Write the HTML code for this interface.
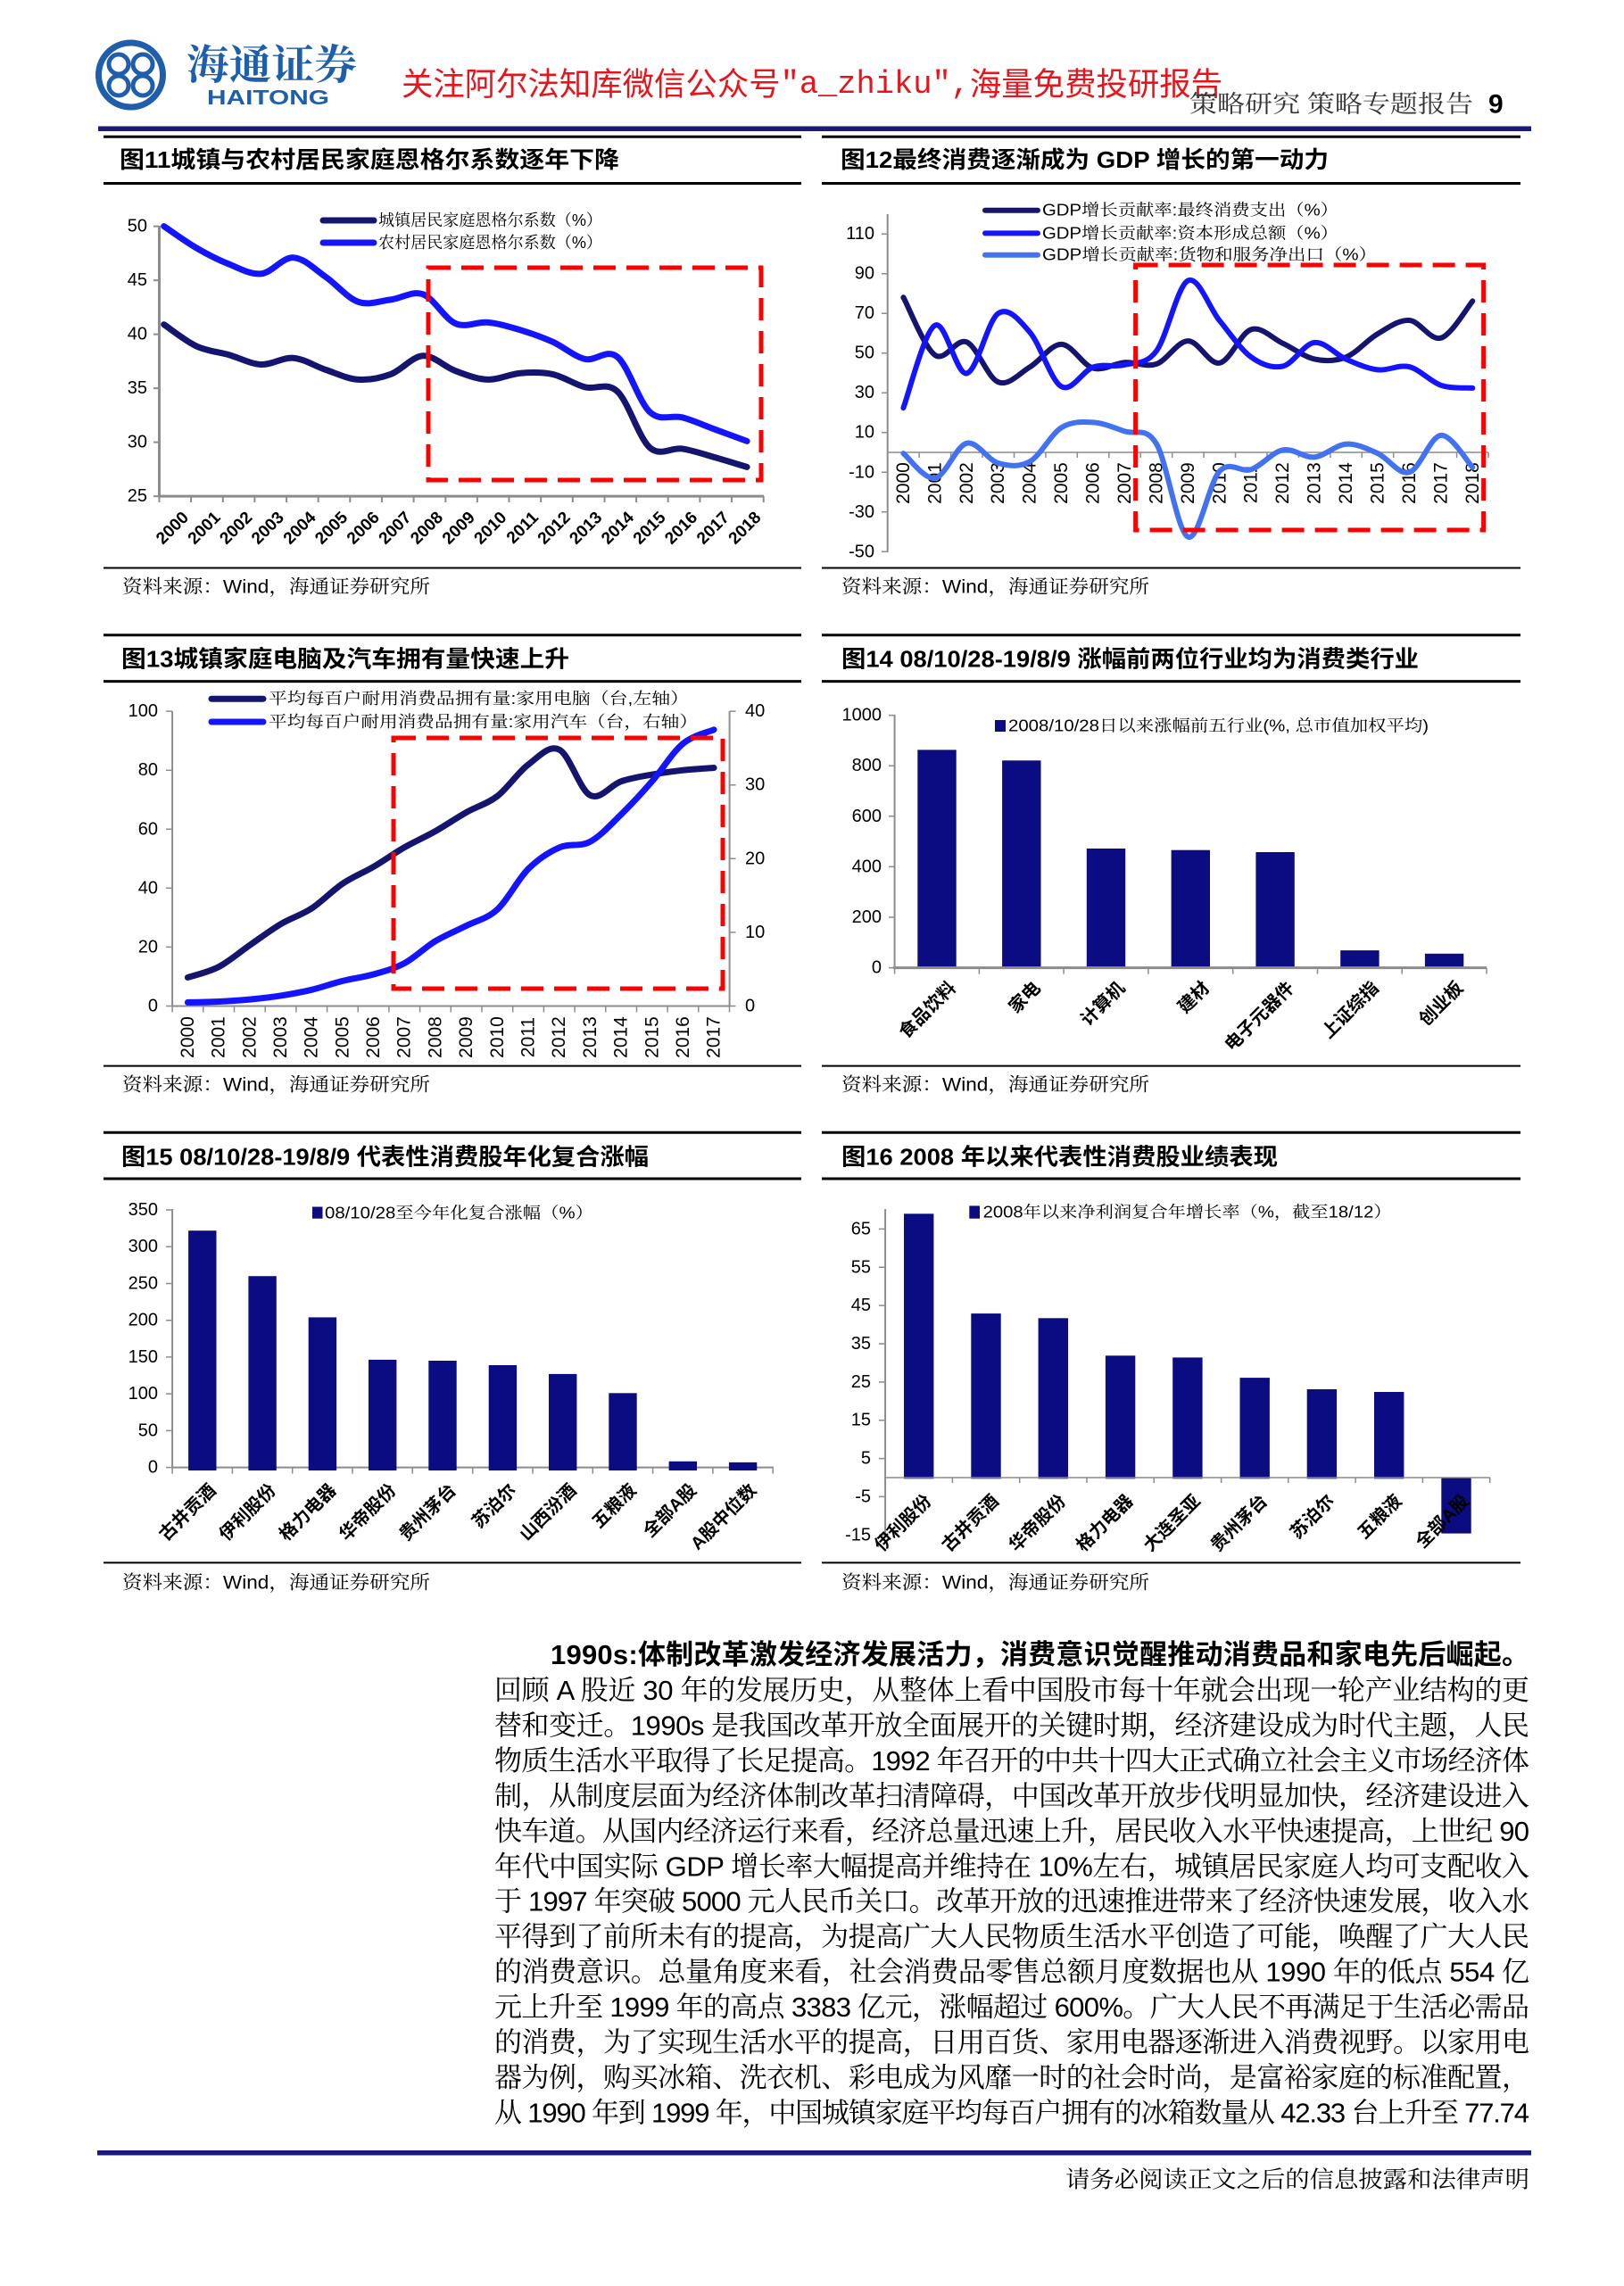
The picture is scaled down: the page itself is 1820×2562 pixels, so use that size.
<!DOCTYPE html>
<html><head><meta charset="utf-8"><style>
html,body{margin:0;padding:0;background:#fff}
svg{display:block}
.t{font-family:"Liberation Sans","Noto Sans CJK SC",sans-serif;font-weight:700;font-size:26px;fill:#000}
.lg{font-family:"Liberation Sans","Noto Serif CJK SC",serif;font-size:18px;fill:#000}
.tk{font-family:"Liberation Sans",sans-serif;font-size:20px;fill:#000}
.yr{font-family:"Liberation Sans",sans-serif;font-size:19px;font-weight:700;fill:#000}
.vl{font-family:"Liberation Sans",sans-serif;font-size:21px;fill:#000}
.bl{font-family:"Liberation Sans","Noto Sans CJK SC",sans-serif;font-size:20px;font-weight:700;fill:#000}
.src{font-family:"Liberation Sans","Noto Serif CJK SC",serif;font-size:21px;fill:#000}
.bd{font-family:"Liberation Sans","Noto Serif CJK SC",serif;font-size:31px;fill:#000}
.bh{font-family:"Liberation Sans","Noto Sans CJK SC",sans-serif;font-size:31px;font-weight:700;fill:#000}
</style></head><body>
<svg width="1820" height="2562" viewBox="0 0 1820 2562">
<rect width="1820" height="2562" fill="#fff"/>

<!-- HEADER -->
<g fill="none" stroke="#1f5eab">
<circle cx="146.5" cy="84" r="36" stroke-width="7"/>
<circle cx="133" cy="72" r="11" stroke-width="5"/>
<circle cx="160" cy="72" r="11" stroke-width="5"/>
<circle cx="133" cy="96" r="11" stroke-width="5"/>
<circle cx="160" cy="96" r="11" stroke-width="5"/>
</g>
<text x="209" y="73" dominant-baseline="central" textLength="191" lengthAdjust="spacingAndGlyphs" style="font-family:'Liberation Serif','Noto Serif CJK SC',serif;font-weight:700;font-size:46px;fill:#1f5eab">海通证券</text>
<text x="232" y="109" dominant-baseline="central" textLength="137" lengthAdjust="spacingAndGlyphs" style="font-family:'Liberation Sans',sans-serif;font-weight:700;font-size:23px;fill:#1f5eab">HAITONG</text>
<text x="450" y="94" dominant-baseline="central" textLength="920" lengthAdjust="spacingAndGlyphs" style="font-family:'Liberation Sans','Noto Sans CJK SC',sans-serif;font-size:36px;fill:#e8141b">关注阿尔法知库微信公众号<tspan style="font-family:'Liberation Mono',monospace">"a_zhiku",</tspan>海量免费投研报告</text>
<text x="1333" y="117" dominant-baseline="central" textLength="318" lengthAdjust="spacingAndGlyphs" style="font-family:'Liberation Serif','Noto Serif CJK SC',serif;font-size:27px;fill:#333">策略研究 策略专题报告</text>
<text x="1668" y="117" dominant-baseline="central" style="font-family:'Liberation Sans',sans-serif;font-weight:700;font-size:30px;fill:#000">9</text>
<rect x="110" y="141.5" width="1606" height="5.5" fill="#1a1a78"/>

<!-- FRAME LINES -->
<g stroke="#000" stroke-width="3">
<line x1="116" y1="153.2" x2="898" y2="153.2"/><line x1="921" y1="153.2" x2="1704" y2="153.2"/>
<line x1="116" y1="205.5" x2="898" y2="205.5"/><line x1="921" y1="205.5" x2="1704" y2="205.5"/>
<line x1="116" y1="711.8" x2="898" y2="711.8"/><line x1="921" y1="711.8" x2="1704" y2="711.8"/>
<line x1="116" y1="763.6" x2="898" y2="763.6"/><line x1="921" y1="763.6" x2="1704" y2="763.6"/>
<line x1="116" y1="1269.3" x2="898" y2="1269.3"/><line x1="921" y1="1269.3" x2="1704" y2="1269.3"/>
<line x1="116" y1="1321" x2="898" y2="1321"/><line x1="921" y1="1321" x2="1704" y2="1321"/>
</g>
<g stroke="#000" stroke-width="2">
<line x1="116" y1="636.5" x2="898" y2="636.5"/><line x1="921" y1="636.5" x2="1704" y2="636.5"/>
<line x1="116" y1="1194.6" x2="898" y2="1194.6"/><line x1="921" y1="1194.6" x2="1704" y2="1194.6"/>
<line x1="116" y1="1751.4" x2="898" y2="1751.4"/><line x1="921" y1="1751.4" x2="1704" y2="1751.4"/>
</g>

<!-- TITLES -->
<g class="t" dominant-baseline="central">
<text x="134" y="179" textLength="560" lengthAdjust="spacingAndGlyphs">图11城镇与农村居民家庭恩格尔系数逐年下降</text>
<text x="942" y="179" textLength="547" lengthAdjust="spacingAndGlyphs">图12最终消费逐渐成为 GDP 增长的第一动力</text>
<text x="136" y="738.6" textLength="502" lengthAdjust="spacingAndGlyphs">图13城镇家庭电脑及汽车拥有量快速上升</text>
<text x="943" y="738.6" textLength="647" lengthAdjust="spacingAndGlyphs">图14 08/10/28-19/8/9 涨幅前两位行业均为消费类行业</text>
<text x="136" y="1296.4" textLength="591" lengthAdjust="spacingAndGlyphs">图15 08/10/28-19/8/9 代表性消费股年化复合涨幅</text>
<text x="943" y="1296.4" textLength="489" lengthAdjust="spacingAndGlyphs">图16 2008 年以来代表性消费股业绩表现</text>
</g>

<!-- SOURCES -->
<g class="src" dominant-baseline="central">
<text x="137" y="658" textLength="345" lengthAdjust="spacingAndGlyphs">资料来源：Wind，海通证券研究所</text>
<text x="943" y="658" textLength="345" lengthAdjust="spacingAndGlyphs">资料来源：Wind，海通证券研究所</text>
<text x="137" y="1216" textLength="345" lengthAdjust="spacingAndGlyphs">资料来源：Wind，海通证券研究所</text>
<text x="943" y="1216" textLength="345" lengthAdjust="spacingAndGlyphs">资料来源：Wind，海通证券研究所</text>
<text x="137" y="1774" textLength="345" lengthAdjust="spacingAndGlyphs">资料来源：Wind，海通证券研究所</text>
<text x="943" y="1774" textLength="345" lengthAdjust="spacingAndGlyphs">资料来源：Wind，海通证券研究所</text>
</g>

<!-- ============ CHART 11 ============ -->
<g stroke="#8c8c8c" fill="none">
<line x1="178.5" y1="253" x2="178.5" y2="557" stroke-width="3"/>
<line x1="177" y1="556.1" x2="856" y2="556.1" stroke-width="3"/>
<path stroke-width="2" d="M172 253.6h6M172 314.1h6M172 374.6h6M172 435.1h6M172 495.6h6M172 556.1h6
M178.5 556v7M214.1 556v7M249.8 556v7M285.4 556v7M321.1 556v7M356.7 556v7M392.3 556v7M428 556v7M463.6 556v7M499.3 556v7M534.9 556v7M570.5 556v7M606.2 556v7M641.8 556v7M677.5 556v7M713.1 556v7M748.7 556v7M784.4 556v7M820 556v7M855.7 556v7"/>
</g>
<g class="tk" text-anchor="end" dominant-baseline="central">
<text x="165" y="253.6">50</text><text x="165" y="314.1">45</text><text x="165" y="374.6">40</text><text x="165" y="435.1">35</text><text x="165" y="495.6">30</text><text x="165" y="556.1">25</text>
</g>
<g class="yr" text-anchor="end">
<text transform="translate(202.3,571) rotate(-45)" dy="0.75em">2000</text>
<text transform="translate(237.9,571) rotate(-45)" dy="0.75em">2001</text>
<text transform="translate(273.6,571) rotate(-45)" dy="0.75em">2002</text>
<text transform="translate(309.2,571) rotate(-45)" dy="0.75em">2003</text>
<text transform="translate(344.9,571) rotate(-45)" dy="0.75em">2004</text>
<text transform="translate(380.5,571) rotate(-45)" dy="0.75em">2005</text>
<text transform="translate(416.1,571) rotate(-45)" dy="0.75em">2006</text>
<text transform="translate(451.8,571) rotate(-45)" dy="0.75em">2007</text>
<text transform="translate(487.4,571) rotate(-45)" dy="0.75em">2008</text>
<text transform="translate(523.1,571) rotate(-45)" dy="0.75em">2009</text>
<text transform="translate(558.7,571) rotate(-45)" dy="0.75em">2010</text>
<text transform="translate(594.3,571) rotate(-45)" dy="0.75em">2011</text>
<text transform="translate(630,571) rotate(-45)" dy="0.75em">2012</text>
<text transform="translate(665.6,571) rotate(-45)" dy="0.75em">2013</text>
<text transform="translate(701.3,571) rotate(-45)" dy="0.75em">2014</text>
<text transform="translate(736.9,571) rotate(-45)" dy="0.75em">2015</text>
<text transform="translate(772.5,571) rotate(-45)" dy="0.75em">2016</text>
<text transform="translate(808.2,571) rotate(-45)" dy="0.75em">2017</text>
<text transform="translate(843.8,571) rotate(-45)" dy="0.75em">2018</text>
</g>
<g fill="none" stroke-linejoin="round" stroke-linecap="round">
<polyline class="s" stroke="#15156f" stroke-width="7" points="183.7,363.7 220,387.9 256.3,397.6 292.6,408.5 328.9,401.2 365.2,414.5 401.5,425.4 437.8,419.4 474.1,398.8 510.4,415.7 546.7,425.4 583,418.2 619.3,419.4 655.6,433.9 691.9,438.7 728.2,501.6 764.5,502.9 800.8,512.5 837.1,523.4"/>
<polyline class="s" stroke="#1414ff" stroke-width="7" points="183.7,253.6 220,277.8 256.3,295.9 292.6,306.8 328.9,288.7 365.2,310.5 401.5,338.3 437.8,335.9 474.1,329.8 510.4,362.5 546.7,361.3 583,369.8 619.3,383.1 655.6,402.4 691.9,400 728.2,461.7 764.5,467.8 800.8,481.1 837.1,494.4"/>
</g>
<rect x="480" y="300" width="373" height="238" fill="none" stroke="#ff0000" stroke-width="5" stroke-dasharray="25 12"/>
<line x1="362" y1="247" x2="419" y2="247" stroke="#15156f" stroke-width="7" stroke-linecap="round"/>
<line x1="362" y1="272" x2="419" y2="272" stroke="#1414ff" stroke-width="7" stroke-linecap="round"/>
<g class="lg" dominant-baseline="central">
<text x="424" y="247" textLength="251" lengthAdjust="spacingAndGlyphs">城镇居民家庭恩格尔系数（%）</text>
<text x="424" y="272" textLength="251" lengthAdjust="spacingAndGlyphs">农村居民家庭恩格尔系数（%）</text>
</g>

<!-- ============ CHART 12 ============ -->
<g stroke="#8c8c8c" fill="none">
<line x1="994.7" y1="240" x2="994.7" y2="619" stroke-width="2"/>
<line x1="994.7" y1="507" x2="1668" y2="507" stroke-width="1.5"/>
<path stroke-width="1.5" d="M988 262.2h7M988 306.7h7M988 351.2h7M988 395.7h7M988 440.2h7M988 484.7h7M988 529.3h7M988 573.8h7M988 618.3h7
M994.7 507v6M1030.1 507v6M1065.6 507v6M1101 507v6M1136.5 507v6M1171.9 507v6M1207.3 507v6M1242.8 507v6M1278.2 507v6M1313.7 507v6M1349.1 507v6M1384.5 507v6M1420 507v6M1455.4 507v6M1490.9 507v6M1526.3 507v6M1561.7 507v6M1597.2 507v6M1632.6 507v6M1668.1 507v6"/>
</g>
<g class="tk" text-anchor="end" dominant-baseline="central">
<text x="980" y="262.2">110</text><text x="980" y="306.7">90</text><text x="980" y="351.2">70</text><text x="980" y="395.7">50</text><text x="980" y="440.2">30</text><text x="980" y="484.7">10</text><text x="980" y="529.3">-10</text><text x="980" y="573.8">-30</text><text x="980" y="618.3">-50</text>
</g>
<g class="vl" text-anchor="middle" dominant-baseline="central">
<text transform="translate(1012.4,541.5) rotate(-90)">2000</text>
<text transform="translate(1047.8,541.5) rotate(-90)">2001</text>
<text transform="translate(1083.3,541.5) rotate(-90)">2002</text>
<text transform="translate(1118.7,541.5) rotate(-90)">2003</text>
<text transform="translate(1154.2,541.5) rotate(-90)">2004</text>
<text transform="translate(1189.6,541.5) rotate(-90)">2005</text>
<text transform="translate(1225,541.5) rotate(-90)">2006</text>
<text transform="translate(1260.5,541.5) rotate(-90)">2007</text>
<text transform="translate(1295.9,541.5) rotate(-90)">2008</text>
<text transform="translate(1331.4,541.5) rotate(-90)">2009</text>
<text transform="translate(1366.8,541.5) rotate(-90)">2010</text>
<text transform="translate(1402.2,541.5) rotate(-90)">2011</text>
<text transform="translate(1437.7,541.5) rotate(-90)">2012</text>
<text transform="translate(1473.1,541.5) rotate(-90)">2013</text>
<text transform="translate(1508.6,541.5) rotate(-90)">2014</text>
<text transform="translate(1544,541.5) rotate(-90)">2015</text>
<text transform="translate(1579.4,541.5) rotate(-90)">2016</text>
<text transform="translate(1614.9,541.5) rotate(-90)">2017</text>
<text transform="translate(1650.3,541.5) rotate(-90)">2018</text>
</g>
<g fill="none" stroke-linejoin="round" stroke-linecap="round">
<polyline class="s" stroke="#15156f" stroke-width="6" points="1012.4,333.2 1047.8,397.9 1083.3,383.3 1118.7,428.2 1154.2,411.3 1189.6,385.9 1225,412.6 1260.5,406.2 1295.9,408 1331.4,382.1 1366.8,406.8 1402.2,369.2 1437.7,384.8 1473.1,402.4 1508.6,400.2 1544,374.1 1579.4,359 1614.9,378.8 1650.3,337.4"/>
<polyline class="s" stroke="#1414ff" stroke-width="6" points="1012.4,457.1 1047.8,364.6 1083.3,418.4 1118.7,351.2 1154.2,372.4 1189.6,433.3 1225,411.5 1260.5,408.9 1295.9,393.5 1331.4,314.5 1366.8,359.4 1402.2,400.2 1437.7,410.4 1473.1,383.9 1508.6,402.6 1544,414.4 1579.4,411.1 1614.9,431.8 1650.3,434.9"/>
<polyline class="s" stroke="#4272f2" stroke-width="6" points="1012.4,508.1 1047.8,535.9 1083.3,496.8 1118.7,519 1154.2,517.2 1189.6,479.2 1225,473.4 1260.5,483.4 1295.9,497.2 1331.4,601.8 1366.8,528.1 1402.2,526.1 1437.7,504.3 1473.1,512.3 1508.6,497.7 1544,508.1 1579.4,529.3 1614.9,487.9 1650.3,523.7"/>
</g>
<rect x="1272.6" y="297" width="390" height="297" fill="none" stroke="#ff0000" stroke-width="5" stroke-dasharray="25 12"/>
<line x1="1104" y1="235.7" x2="1163" y2="235.7" stroke="#15156f" stroke-width="6" stroke-linecap="round"/>
<line x1="1104" y1="261.4" x2="1163" y2="261.4" stroke="#1414ff" stroke-width="6" stroke-linecap="round"/>
<line x1="1104" y1="285.7" x2="1163" y2="285.7" stroke="#4272f2" stroke-width="6" stroke-linecap="round"/>
<g class="lg" dominant-baseline="central">
<text x="1168" y="235.7" textLength="332" lengthAdjust="spacingAndGlyphs">GDP增长贡献率:最终消费支出（%）</text>
<text x="1168" y="261.4" textLength="332" lengthAdjust="spacingAndGlyphs">GDP增长贡献率:资本形成总额（%）</text>
<text x="1168" y="285.7" textLength="375" lengthAdjust="spacingAndGlyphs">GDP增长贡献率:货物和服务净出口（%）</text>
</g>

<!-- ============ CHART 13 ============ -->
<g stroke="#8c8c8c" fill="none">
<line x1="193.1" y1="797" x2="193.1" y2="1128" stroke-width="2"/>
<line x1="817.6" y1="797" x2="817.6" y2="1128" stroke-width="2"/>
<line x1="193.1" y1="1127.5" x2="817.6" y2="1127.5" stroke-width="2"/>
<path stroke-width="1.5" d="M186 797.1h7M186 863.2h7M186 929.3h7M186 995.3h7M186 1061.4h7M186 1127.5h7
M817.6 797.1h7M817.6 879.7h7M817.6 962.3h7M817.6 1044.9h7M817.6 1127.5h7
M193.1 1127.5v7M227.8 1127.5v7M262.5 1127.5v7M297.2 1127.5v7M331.9 1127.5v7M366.6 1127.5v7M401.2 1127.5v7M435.9 1127.5v7M470.6 1127.5v7M505.3 1127.5v7M540 1127.5v7M574.7 1127.5v7M609.4 1127.5v7M644.1 1127.5v7M678.8 1127.5v7M713.5 1127.5v7M748.1 1127.5v7M782.8 1127.5v7M817.5 1127.5v7"/>
</g>
<g class="tk" text-anchor="end" dominant-baseline="central">
<text x="177" y="797.1">100</text><text x="177" y="863.2">80</text><text x="177" y="929.3">60</text><text x="177" y="995.3">40</text><text x="177" y="1061.4">20</text><text x="177" y="1127.5">0</text>
</g>
<g class="tk" text-anchor="start" dominant-baseline="central">
<text x="835" y="797.1">40</text><text x="835" y="879.7">30</text><text x="835" y="962.3">20</text><text x="835" y="1044.9">10</text><text x="835" y="1127.5">0</text>
</g>
<g class="vl" text-anchor="middle" dominant-baseline="central">
<text transform="translate(210.4,1162.5) rotate(-90)">2000</text>
<text transform="translate(245.1,1162.5) rotate(-90)">2001</text>
<text transform="translate(279.8,1162.5) rotate(-90)">2002</text>
<text transform="translate(314.5,1162.5) rotate(-90)">2003</text>
<text transform="translate(349.2,1162.5) rotate(-90)">2004</text>
<text transform="translate(383.9,1162.5) rotate(-90)">2005</text>
<text transform="translate(418.5,1162.5) rotate(-90)">2006</text>
<text transform="translate(453.2,1162.5) rotate(-90)">2007</text>
<text transform="translate(487.9,1162.5) rotate(-90)">2008</text>
<text transform="translate(522.6,1162.5) rotate(-90)">2009</text>
<text transform="translate(557.3,1162.5) rotate(-90)">2010</text>
<text transform="translate(592,1162.5) rotate(-90)">2011</text>
<text transform="translate(626.7,1162.5) rotate(-90)">2012</text>
<text transform="translate(661.4,1162.5) rotate(-90)">2013</text>
<text transform="translate(696.1,1162.5) rotate(-90)">2014</text>
<text transform="translate(730.8,1162.5) rotate(-90)">2015</text>
<text transform="translate(765.4,1162.5) rotate(-90)">2016</text>
<text transform="translate(800.1,1162.5) rotate(-90)">2017</text>
</g>
<g fill="none" stroke-linejoin="round" stroke-linecap="round">
<polyline class="s" stroke="#15156f" stroke-width="7" points="210.4,1095.5 245.1,1083.6 279.8,1059.4 314.5,1035.7 349.2,1018.1 383.9,990.4 418.5,971.5 453.2,949.7 487.9,931.6 522.6,910.4 557.3,892.3 592,856.9 626.7,840.1 661.4,891.3 696.1,875.7 730.8,868.1 765.4,863.2 800.1,860.5"/>
<polyline class="s" stroke="#1414ff" stroke-width="7" points="210.4,1123.4 245.1,1122.5 279.8,1120.1 314.5,1115.9 349.2,1109.3 383.9,1099.4 418.5,1092 453.2,1079.6 487.9,1054.8 522.6,1037.5 557.3,1019.3 592,973.9 626.7,949.9 661.4,943.3 696.1,912.7 730.8,875.6 765.4,833.4 800.1,817.8"/>
</g>
<rect x="441" y="827" width="369" height="281" fill="none" stroke="#ff0000" stroke-width="5" stroke-dasharray="25 12"/>
<line x1="237" y1="783.2" x2="295" y2="783.2" stroke="#15156f" stroke-width="7" stroke-linecap="round"/>
<line x1="237" y1="809" x2="295" y2="809" stroke="#1414ff" stroke-width="7" stroke-linecap="round"/>
<g class="lg" dominant-baseline="central">
<text x="301" y="783.2" textLength="471" lengthAdjust="spacingAndGlyphs">平均每百户耐用消费品拥有量:家用电脑（台,左轴）</text>
<text x="301" y="809" textLength="481" lengthAdjust="spacingAndGlyphs">平均每百户耐用消费品拥有量:家用汽车（台，右轴）</text>
</g>

<!-- ============ CHART 14 ============ -->
<g stroke="#8c8c8c" fill="none">
<line x1="1002.6" y1="801" x2="1002.6" y2="1085" stroke-width="2"/>
<path stroke-width="1.5" d="M996 801.6h7M996 858.2h7M996 914.8h7M996 971.4h7M996 1028h7M996 1084.6h7
M1002.6 1084.6v7M1097.4 1084.6v7M1192.1 1084.6v7M1286.9 1084.6v7M1381.7 1084.6v7M1476.5 1084.6v7M1571.2 1084.6v7M1666 1084.6v7"/>
</g>
<g fill="#0c0c82">
<rect x="1028.3" y="840.4" width="43.4" height="244.2"/>
<rect x="1123.1" y="852.3" width="43.4" height="232.3"/>
<rect x="1217.8" y="951" width="43.4" height="133.6"/>
<rect x="1312.6" y="952.7" width="43.4" height="131.9"/>
<rect x="1407.4" y="955" width="43.4" height="129.6"/>
<rect x="1502.2" y="1065.1" width="43.4" height="19.5"/>
<rect x="1596.9" y="1068.8" width="43.4" height="15.8"/>
</g>
<line x1="1001" y1="1084.6" x2="1666" y2="1084.6" stroke="#8c8c8c" stroke-width="3"/>
<g class="tk" text-anchor="end" dominant-baseline="central">
<text x="988" y="801.6">1000</text><text x="988" y="858.2">800</text><text x="988" y="914.8">600</text><text x="988" y="971.4">400</text><text x="988" y="1028">200</text><text x="988" y="1084.6">0</text>
</g>
<g class="bl" text-anchor="end">
<text transform="translate(1061,1097) rotate(-45)" dy="0.8em">食品饮料</text>
<text transform="translate(1155.8,1097) rotate(-45)" dy="0.8em">家电</text>
<text transform="translate(1250.5,1097) rotate(-45)" dy="0.8em">计算机</text>
<text transform="translate(1345.3,1097) rotate(-45)" dy="0.8em">建材</text>
<text transform="translate(1440.1,1097) rotate(-45)" dy="0.8em">电子元器件</text>
<text transform="translate(1534.9,1097) rotate(-45)" dy="0.8em">上证综指</text>
<text transform="translate(1629.6,1097) rotate(-45)" dy="0.8em">创业板</text>
</g>
<rect x="1115" y="807" width="12" height="13" fill="#0c0c82"/>
<text class="lg" x="1130" y="813.6" dominant-baseline="central" textLength="471" lengthAdjust="spacingAndGlyphs">2008/10/28日以来涨幅前五行业(%, 总市值加权平均)</text>

<!-- ============ CHART 15 ============ -->
<g stroke="#8c8c8c" fill="none">
<line x1="193.1" y1="1355" x2="193.1" y2="1645" stroke-width="2"/>
<path stroke-width="1.5" d="M186 1356h7M186 1397.2h7M186 1438.5h7M186 1479.7h7M186 1520.9h7M186 1562.1h7M186 1603.4h7M186 1644.6h7
M193.1 1644.6v7M260.4 1644.6v7M327.7 1644.6v7M395 1644.6v7M462.3 1644.6v7M529.7 1644.6v7M597 1644.6v7M664.3 1644.6v7M731.6 1644.6v7M798.9 1644.6v7M866.2 1644.6v7"/>
</g>
<line x1="192" y1="1644.6" x2="867" y2="1644.6" stroke="#8c8c8c" stroke-width="2"/>
<g fill="#0c0c82">
<rect x="211.1" y="1379.2" width="31.4" height="268.8"/>
<rect x="278.4" y="1430.2" width="31.4" height="217.8"/>
<rect x="345.7" y="1476.4" width="31.4" height="171.6"/>
<rect x="413" y="1523.9" width="31.4" height="124.1"/>
<rect x="480.3" y="1525" width="31.4" height="123"/>
<rect x="547.7" y="1530" width="31.4" height="118"/>
<rect x="615" y="1539.9" width="31.4" height="108.1"/>
<rect x="682.3" y="1561.3" width="31.4" height="86.7"/>
<rect x="749.6" y="1637.8" width="31.4" height="10.2"/>
<rect x="816.9" y="1638.9" width="31.4" height="9.1"/>
</g>
<g class="tk" text-anchor="end" dominant-baseline="central">
<text x="177" y="1356">350</text><text x="177" y="1397.2">300</text><text x="177" y="1438.5">250</text><text x="177" y="1479.7">200</text><text x="177" y="1520.9">150</text><text x="177" y="1562.1">100</text><text x="177" y="1603.4">50</text><text x="177" y="1644.6">0</text>
</g>
<g class="bl" text-anchor="end">
<text transform="translate(231.8,1660) rotate(-45)" dy="0.8em">古井贡酒</text>
<text transform="translate(299.1,1660) rotate(-45)" dy="0.8em">伊利股份</text>
<text transform="translate(366.4,1660) rotate(-45)" dy="0.8em">格力电器</text>
<text transform="translate(433.7,1660) rotate(-45)" dy="0.8em">华帝股份</text>
<text transform="translate(501,1660) rotate(-45)" dy="0.8em">贵州茅台</text>
<text transform="translate(568.4,1660) rotate(-45)" dy="0.8em">苏泊尔</text>
<text transform="translate(635.7,1660) rotate(-45)" dy="0.8em">山西汾酒</text>
<text transform="translate(703,1660) rotate(-45)" dy="0.8em">五粮液</text>
<text transform="translate(770.3,1660) rotate(-45)" dy="0.8em">全部A股</text>
<text transform="translate(837.6,1660) rotate(-45)" dy="0.8em">A股中位数</text>
</g>
<rect x="350" y="1352.5" width="11.5" height="13.2" fill="#0c0c82"/>
<text class="lg" x="364" y="1359.6" dominant-baseline="central" textLength="301" lengthAdjust="spacingAndGlyphs">08/10/28至今年化复合涨幅（%）</text>

<!-- ============ CHART 16 ============ -->
<g stroke="#8c8c8c" fill="none">
<line x1="992.1" y1="1355" x2="992.1" y2="1722" stroke-width="2"/>
<path stroke-width="1.5" d="M985 1377.4h7M985 1420.3h7M985 1463.1h7M985 1506h7M985 1548.9h7M985 1591.7h7M985 1634.6h7M985 1677.4h7M985 1720.3h7
M992.1 1656v6M1067.4 1656v6M1142.7 1656v6M1218 1656v6M1293.3 1656v6M1368.6 1656v6M1443.8 1656v6M1519.1 1656v6M1594.4 1656v6M1669.7 1656v6"/>
</g>
<g fill="#0c0c82">
<rect x="1013" y="1360.3" width="33.4" height="297"/>
<rect x="1088.3" y="1472.1" width="33.4" height="185.2"/>
<rect x="1163.6" y="1477.3" width="33.4" height="180"/>
<rect x="1238.9" y="1519.3" width="33.4" height="138"/>
<rect x="1314.2" y="1521.4" width="33.4" height="135.9"/>
<rect x="1389.5" y="1544.1" width="33.4" height="113.2"/>
<rect x="1464.7" y="1557" width="33.4" height="100.3"/>
<rect x="1540" y="1560" width="33.4" height="97.3"/>
<rect x="1615.3" y="1656" width="33.4" height="62.6"/>
</g>
<line x1="992" y1="1656" x2="1670" y2="1656" stroke="#8c8c8c" stroke-width="1.5"/>
<g class="tk" text-anchor="end" dominant-baseline="central">
<text x="976" y="1377.4">65</text><text x="976" y="1420.3">55</text><text x="976" y="1463.1">45</text><text x="976" y="1506">35</text><text x="976" y="1548.9">25</text><text x="976" y="1591.7">15</text><text x="976" y="1634.6">5</text><text x="976" y="1677.4">-5</text><text x="976" y="1720.3">-15</text>
</g>
<g class="bl" text-anchor="end">
<text transform="translate(1033.7,1672) rotate(-45)" dy="0.8em">伊利股份</text>
<text transform="translate(1109,1672) rotate(-45)" dy="0.8em">古井贡酒</text>
<text transform="translate(1184.3,1672) rotate(-45)" dy="0.8em">华帝股份</text>
<text transform="translate(1259.6,1672) rotate(-45)" dy="0.8em">格力电器</text>
<text transform="translate(1334.9,1672) rotate(-45)" dy="0.8em">大连圣亚</text>
<text transform="translate(1410.2,1672) rotate(-45)" dy="0.8em">贵州茅台</text>
<text transform="translate(1485.4,1672) rotate(-45)" dy="0.8em">苏泊尔</text>
<text transform="translate(1560.7,1672) rotate(-45)" dy="0.8em">五粮液</text>
<text transform="translate(1636,1672) rotate(-45)" dy="0.8em">全部A股</text>
</g>
<rect x="1086.3" y="1351.4" width="11.7" height="14.3" fill="#0c0c82"/>
<text class="lg" x="1101.6" y="1358.6" dominant-baseline="central" textLength="458" lengthAdjust="spacingAndGlyphs">2008年以来净利润复合年增长率（%，截至18/12）</text>

<!-- ============ BODY TEXT ============ -->
<text class="bh" x="617" y="1854.5" dominant-baseline="central" textLength="1097" lengthAdjust="spacing">1990s:体制改革激发经济发展活力，消费意识觉醒推动消费品和家电先后崛起。</text>
<g class="bd" dominant-baseline="central">
<text x="554" y="1894.5" textLength="1160" lengthAdjust="spacing">回顾 A 股近 30 年的发展历史，从整体上看中国股市每十年就会出现一轮产业结构的更</text>
<text x="554" y="1934" textLength="1160" lengthAdjust="spacing">替和变迁。1990s 是我国改革开放全面展开的关键时期，经济建设成为时代主题，人民</text>
<text x="554" y="1973.4" textLength="1160" lengthAdjust="spacing">物质生活水平取得了长足提高。1992 年召开的中共十四大正式确立社会主义市场经济体</text>
<text x="554" y="2012.9" textLength="1160" lengthAdjust="spacing">制，从制度层面为经济体制改革扫清障碍，中国改革开放步伐明显加快，经济建设进入</text>
<text x="554" y="2052.3" textLength="1160" lengthAdjust="spacing">快车道。从国内经济运行来看，经济总量迅速上升，居民收入水平快速提高，上世纪 90</text>
<text x="554" y="2091.8" textLength="1160" lengthAdjust="spacing">年代中国实际 GDP 增长率大幅提高并维持在 10%左右，城镇居民家庭人均可支配收入</text>
<text x="554" y="2131.2" textLength="1160" lengthAdjust="spacing">于 1997 年突破 5000 元人民币关口。改革开放的迅速推进带来了经济快速发展，收入水</text>
<text x="554" y="2170.7" textLength="1160" lengthAdjust="spacing">平得到了前所未有的提高，为提高广大人民物质生活水平创造了可能，唤醒了广大人民</text>
<text x="554" y="2210.1" textLength="1160" lengthAdjust="spacing">的消费意识。总量角度来看，社会消费品零售总额月度数据也从 1990 年的低点 554 亿</text>
<text x="554" y="2249.6" textLength="1160" lengthAdjust="spacing">元上升至 1999 年的高点 3383 亿元，涨幅超过 600%。广大人民不再满足于生活必需品</text>
<text x="554" y="2289" textLength="1160" lengthAdjust="spacing">的消费，为了实现生活水平的提高，日用百货、家用电器逐渐进入消费视野。以家用电</text>
<text x="554" y="2328.5" textLength="1160" lengthAdjust="spacing">器为例，购买冰箱、洗衣机、彩电成为风靡一时的社会时尚，是富裕家庭的标准配置，</text>
<text x="554" y="2367.9" textLength="1160" lengthAdjust="spacing">从 1990 年到 1999 年，中国城镇家庭平均每百户拥有的冰箱数量从 42.33 台上升至 77.74</text>
</g>

<!-- FOOTER -->
<rect x="109" y="2410" width="1607" height="5.5" fill="#1a1a78"/>
<text x="1714" y="2443" text-anchor="end" dominant-baseline="central" textLength="520" lengthAdjust="spacingAndGlyphs" style="font-family:'Liberation Serif','Noto Serif CJK SC',serif;font-size:26px;fill:#000">请务必阅读正文之后的信息披露和法律声明</text>
</svg>
<script>
(function(){
var pls=document.querySelectorAll('polyline.s');
for(var k=0;k<pls.length;k++){
var pl=pls[k];
var p=pl.getAttribute('points').trim().split(/\s+/).map(function(s){return s.split(',').map(Number);});
var d='M'+p[0][0]+','+p[0][1];
for(var i=0;i<p.length-1;i++){
var p0=p[i-1]||p[i],p1=p[i],p2=p[i+1],p3=p[i+2]||p2;
var c1x=p1[0]+(p2[0]-p0[0])/6,c1y=p1[1]+(p2[1]-p0[1])/6,c2x=p2[0]-(p3[0]-p1[0])/6,c2y=p2[1]-(p3[1]-p1[1])/6;
d+=' C'+c1x.toFixed(1)+','+c1y.toFixed(1)+' '+c2x.toFixed(1)+','+c2y.toFixed(1)+' '+p2[0]+','+p2[1];
}
var path=document.createElementNS(pl.namespaceURI,'path');
path.setAttribute('d',d);
path.setAttribute('stroke',pl.getAttribute('stroke'));
path.setAttribute('stroke-width',pl.getAttribute('stroke-width'));
path.setAttribute('fill','none');
pl.parentNode.replaceChild(path,pl);
}
})();
</script>
</body></html>
